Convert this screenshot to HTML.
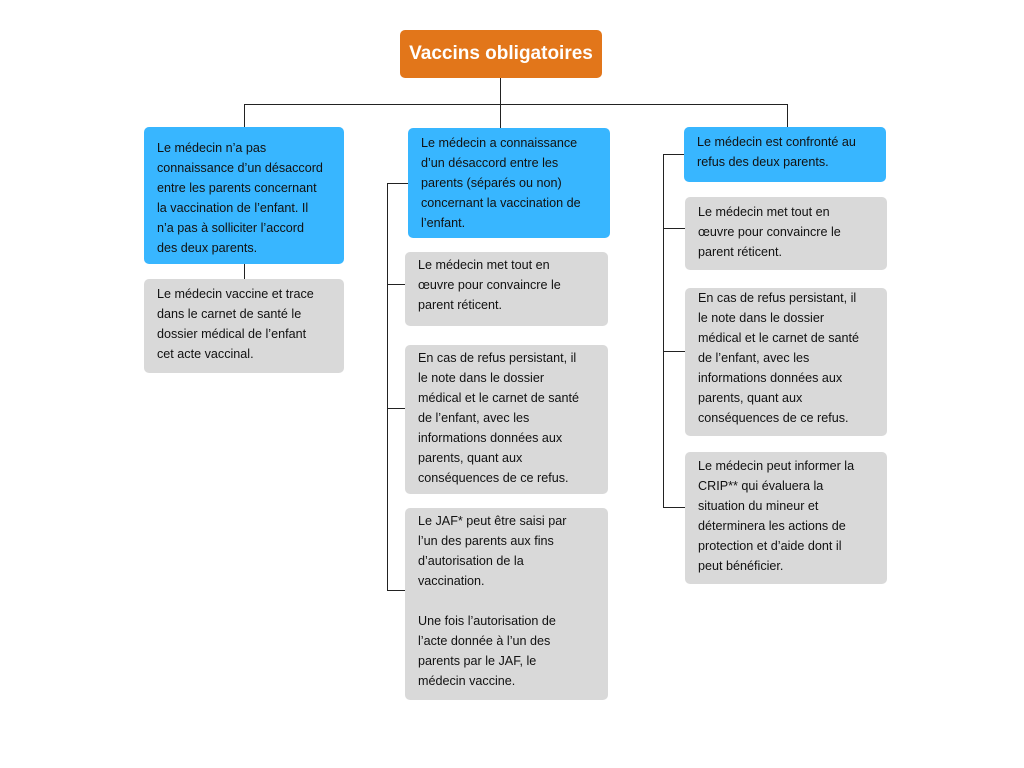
<!DOCTYPE html>
<html><head><meta charset="utf-8"><style>
body{margin:0;width:1024px;height:768px;background:#fff;position:relative;font-family:"Liberation Sans",Arial,sans-serif;overflow:hidden}
.b{position:absolute;border-radius:5px;box-sizing:border-box;font-size:12.6px;line-height:20px;color:#111;white-space:nowrap;padding-left:13px}
.bl{background:#38B6FF}
.g{background:#D9D9D9}
.l{position:absolute;background:#222}
</style></head><body>
<div class="b" style="left:400px;top:30px;width:202px;height:48px;background:#E2761A;color:#fff;font-weight:bold;font-size:19px;line-height:48px;padding:0;text-align:center">Vaccins obligatoires</div>
<!-- lines -->
<div class="l" style="left:500px;top:78px;width:1px;height:50px"></div>
<div class="l" style="left:244px;top:104px;width:544px;height:1px"></div>
<div class="l" style="left:244px;top:104px;width:1px;height:23px"></div>
<div class="l" style="left:787px;top:104px;width:1px;height:23px"></div>
<div class="l" style="left:244px;top:264px;width:1px;height:15px"></div>
<div class="l" style="left:387px;top:183px;width:1px;height:408px"></div>
<div class="l" style="left:387px;top:183px;width:21px;height:1px"></div>
<div class="l" style="left:387px;top:284px;width:18px;height:1px"></div>
<div class="l" style="left:387px;top:408px;width:18px;height:1px"></div>
<div class="l" style="left:387px;top:590px;width:18px;height:1px"></div>
<div class="l" style="left:663px;top:154px;width:1px;height:354px"></div>
<div class="l" style="left:663px;top:154px;width:21px;height:1px"></div>
<div class="l" style="left:663px;top:228px;width:22px;height:1px"></div>
<div class="l" style="left:663px;top:351px;width:22px;height:1px"></div>
<div class="l" style="left:663px;top:507px;width:22px;height:1px"></div>
<!-- boxes -->
<div class="b bl" style="left:144px;top:127px;width:200px;height:137px;padding-top:11px">Le médecin n’a pas<br>connaissance d’un désaccord<br>entre les parents concernant<br>la vaccination de l’enfant. Il<br>n’a pas à solliciter l’accord<br>des deux parents.</div>
<div class="b g" style="left:144px;top:279px;width:200px;height:94px;padding-top:5px">Le médecin vaccine et trace<br>dans le carnet de santé le<br>dossier médical de l’enfant<br>cet acte vaccinal.</div>
<div class="b bl" style="left:408px;top:128px;width:202px;height:110px;padding-top:5px">Le médecin a connaissance<br>d’un désaccord entre les<br>parents (séparés ou non)<br>concernant la vaccination de<br>l’enfant.</div>
<div class="b g" style="left:405px;top:252px;width:203px;height:74px;padding-top:3px">Le médecin met tout en<br>œuvre pour convaincre le<br>parent réticent.</div>
<div class="b g" style="left:405px;top:345px;width:203px;height:149px;padding-top:3px">En cas de refus persistant, il<br>le note dans le dossier<br>médical et le carnet de santé<br>de l’enfant, avec les<br>informations données aux<br>parents, quant aux<br>conséquences de ce refus.</div>
<div class="b g" style="left:405px;top:508px;width:203px;height:192px;padding-top:3px">Le JAF* peut être saisi par<br>l’un des parents aux fins<br>d’autorisation de la<br>vaccination.<br><br>Une fois l’autorisation de<br>l’acte donnée à l’un des<br>parents par le JAF, le<br>médecin vaccine.</div>
<div class="b bl" style="left:684px;top:127px;width:202px;height:55px;padding-top:5px">Le médecin est confronté au<br>refus des deux parents.</div>
<div class="b g" style="left:685px;top:197px;width:202px;height:73px;padding-top:5px">Le médecin met tout en<br>œuvre pour convaincre le<br>parent réticent.</div>
<div class="b g" style="left:685px;top:288px;width:202px;height:148px;padding-top:0px">En cas de refus persistant, il<br>le note dans le dossier<br>médical et le carnet de santé<br>de l’enfant, avec les<br>informations données aux<br>parents, quant aux<br>conséquences de ce refus.</div>
<div class="b g" style="left:685px;top:452px;width:202px;height:132px;padding-top:4px">Le médecin peut informer la<br>CRIP** qui évaluera la<br>situation du mineur et<br>déterminera les actions de<br>protection et d’aide dont il<br>peut bénéficier.</div>
</body></html>
